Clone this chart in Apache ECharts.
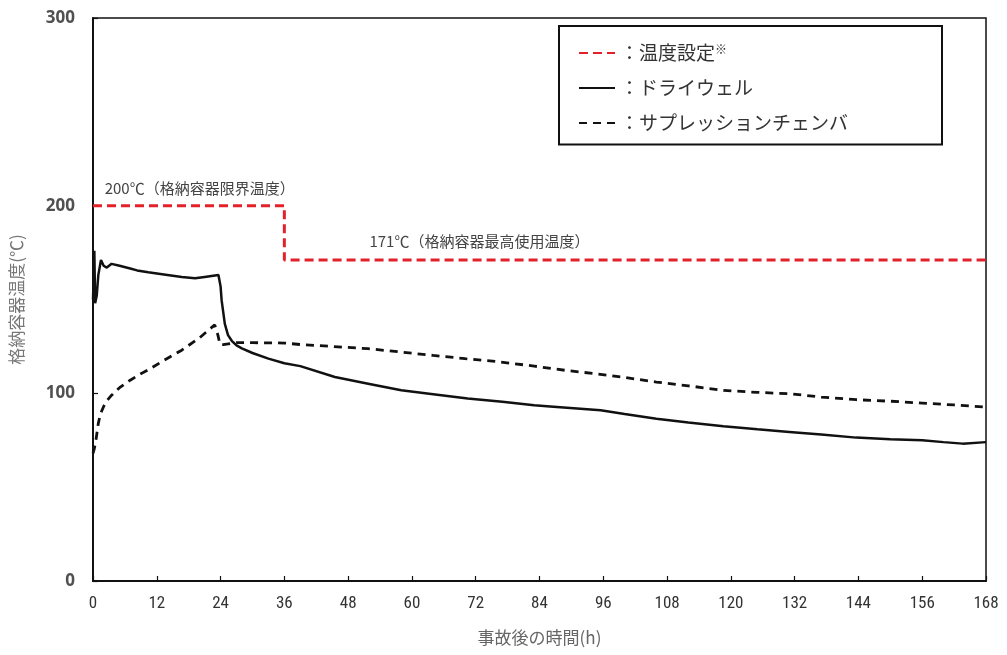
<!DOCTYPE html>
<html>
<head>
<meta charset="utf-8">
<script src="https://cdn.jsdelivr.net/npm/echarts@6/dist/echarts.min.js"></script>
<style>html,body{margin:0;padding:0;background:#fff;}#c{width:1007px;height:655px;}</style>
</head>
<body>
<div id="c"></div>
<script>
// Time axis ticks (h)
const xTicks = [0, 12, 24, 36, 48, 60, 72, 84, 96, 108, 120, 132, 144, 156, 168];
const yTicks = [0, 100, 200, 300];

// 温度設定 (temperature setting): [h, ℃]
const settingData = [[0, 200], [36, 200], [36, 171], [168, 171]];

// ドライウェル (drywell)
const drywellData = [
  [0, 150], [0.25, 176], [0.4, 148], [0.7, 152], [1.0, 163], [1.5, 171], [2.0, 168], [2.6, 167],
  [3.5, 169], [5, 168], [7, 166.5], [8.3, 165.5], [10.4, 164.5], [13, 163.5], [16.7, 162],
  [19.2, 161.3], [21, 162], [23.6, 163], [24.0, 157], [24.2, 149.5], [24.8, 137], [25.4, 131],
  [26.1, 128], [27, 125.5], [28, 124], [30, 121.5], [33, 118.5], [36, 116], [39, 114.5],
  [45.5, 108.7], [52, 105], [58, 101.6], [64, 99.5], [70.5, 97.2], [77, 95.5], [83, 93.6],
  [86, 93], [95.5, 91], [100, 89], [106, 86.5], [112, 84.5], [118.6, 82.4], [125, 80.8],
  [131, 79.4], [137, 78], [143.6, 76.4], [150, 75.5], [156, 75], [160, 74], [163.6, 73.2], [168, 74]
];

// サプレッションチェンバ (suppression chamber)
const suppressionData = [
  [0, 68], [0.2, 70], [0.5, 74], [0.75, 79], [1.0, 84], [1.4, 89], [2, 93], [2.6, 96], [3.5, 99],
  [5, 103], [7, 107], [9, 110.5], [10.4, 112.5], [13, 117], [16.7, 123], [20, 129.5],
  [22.9, 136.5], [23.5, 131], [23.9, 126], [24.5, 126], [27, 127], [30, 127], [36, 126.8],
  [39, 126], [45, 125], [51.7, 123.8], [58, 122], [64, 120.2], [70, 118.5], [76.7, 116.7],
  [83, 114.5], [89, 112.2], [95, 110.3], [100, 108.5], [106, 106], [112, 104], [118.6, 101.6],
  [125, 100.5], [131, 99.8], [137, 98], [143.6, 96.6], [150, 95.8], [156, 94.8], [162, 93.8], [168, 92.7]
];

const annotations = [
  { coord: [2.2, 209.5], text: '200℃（格納容器限界温度）' },
  { coord: [52, 181], text: '171℃（格納容器最高使用温度）' }
];

const CJK = '"Noto Sans CJK JP", "Noto Sans", sans-serif';

const chart = echarts.init(document.getElementById('c'));
chart.setOption({
  animation: false,
  backgroundColor: '#fff',
  grid: { left: 90, right: 21, top: 18, bottom: 74, show: true, borderColor: '#111', borderWidth: 1.5, backgroundColor: 'transparent' },
  legend: {
    orient: 'vertical',
    left: 559, top: 26,
    padding: [17, 94, 12, 19],
    itemGap: 16,
    itemWidth: 36, itemHeight: 14,
    borderColor: '#111', borderWidth: 2,
    backgroundColor: '#fff',
    itemStyle: { opacity: 0 },
    data: ['温度設定', 'ドライウェル', 'サプレッションチェンバ'],
    formatter: function (name) {
      return name === '温度設定' ? '：' + name + '{sup|※}' : '：' + name;
    },
    textStyle: {
      fontFamily: CJK, fontSize: 19, color: '#333',
      rich: { sup: { fontSize: 12, verticalAlign: 'top', color: '#333', padding: [0, 0, 8, 0] } }
    }
  },
  xAxis: {
    type: 'value', min: 0, max: 168, interval: 12,
    name: '事故後の時間(h)', nameLocation: 'middle', nameGap: 48,
    nameTextStyle: { fontFamily: CJK, fontSize: 17, color: '#666' },
    axisLine: { show: true, lineStyle: { color: '#111', width: 2 } },
    axisTick: { show: true, inside: true, length: 5, lineStyle: { color: '#111', width: 1.2 } },
    axisLabel: {
      margin: 14, fontFamily: '"Liberation Sans Narrow", "Roboto Condensed", "DejaVu Sans Condensed", sans-serif', fontSize: 17, color: '#333',
      formatter: function (v) { return xTicks.indexOf(v) >= 0 ? String(v) : ''; }
    },
    splitLine: { show: false }
  },
  yAxis: {
    type: 'value', min: 0, max: 300, interval: 100,
    name: '格納容器温度(℃)', nameLocation: 'middle', nameGap: 68,
    nameTextStyle: { fontFamily: CJK, fontSize: 17, color: '#777' },
    axisLine: { show: true, lineStyle: { color: '#111', width: 2 } },
    axisTick: { show: true, inside: true, length: 5, lineStyle: { color: '#111', width: 1.2 } },
    axisLabel: {
      margin: 18, fontFamily: '"Open Sans", sans-serif', fontWeight: 'bold', fontSize: 17, color: '#505050',
      formatter: function (v) { return yTicks.indexOf(v) >= 0 ? String(v) : ''; }
    },
    splitLine: { show: false }
  },
  series: [
    {
      name: '温度設定', type: 'line', data: settingData, symbol: 'none', z: 3,
      lineStyle: { color: '#e3212b', width: 3, type: [9, 5] },
      itemStyle: { color: '#e3212b' },
      markPoint: {
        symbol: 'circle', symbolSize: 0,
        label: { show: true, position: 'right', distance: 0, fontFamily: CJK, fontSize: 15, color: '#444', formatter: function (p) { return p.name; } },
        data: annotations.map(function (a) { return { name: a.text, coord: a.coord }; })
      }
    },
    {
      name: 'ドライウェル', type: 'line', data: drywellData, symbol: 'none', z: 4,
      lineStyle: { color: '#111', width: 2.5 }, itemStyle: { color: '#111' }
    },
    {
      name: 'サプレッションチェンバ', type: 'line', data: suppressionData, symbol: 'none', z: 4,
      lineStyle: { color: '#111', width: 2.8, type: [8, 6] }, itemStyle: { color: '#111' }
    }
  ]
});
</script>
</body>
</html>
